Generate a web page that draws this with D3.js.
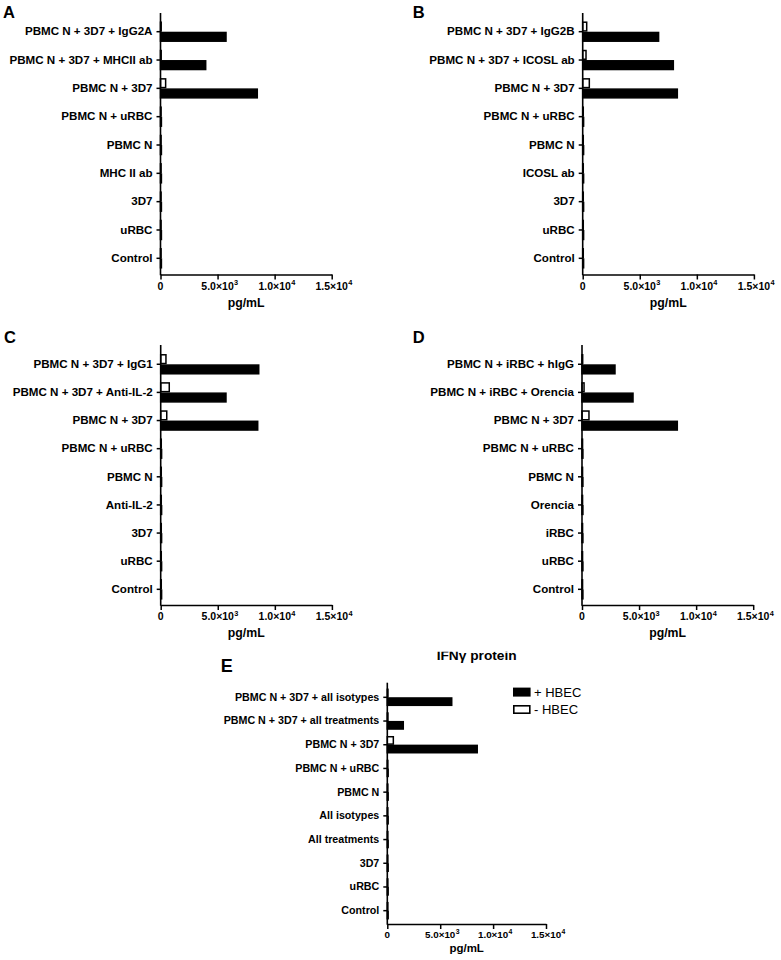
<!DOCTYPE html>
<html><head><meta charset="utf-8">
<script src="https://cdn.jsdelivr.net/npm/d3@7"></script>
<style>
body{margin:0;background:#fff}
svg{display:block}
text{font-family:"Liberation Sans",Arial,Helvetica,sans-serif}
</style>
</head><body>
<svg id="chart" width="781" height="960"></svg>
<script>
// ---------- data ----------
const tickValues = [0, 5000, 10000, 15000];
const tickBase = ["0", "5.0\u00d710", "1.0\u00d710", "1.5\u00d710"];
const tickExp = ["", "3", "4", "4"];
const xDomain = [0, 15000];
const axisTitle = "pg/mL";
const seriesKeys = ["minus", "plus"];
const legendLabels = ["+ HBEC", "- HBEC"];
const panelTitleE = "IFN\u03b3 protein";

const catA = ["PBMC N + 3D7 + IgG2A", "PBMC N + 3D7 + MHCII ab", "PBMC N + 3D7", "PBMC N + uRBC", "PBMC N", "MHC II ab", "3D7", "uRBC", "Control"];
const plusA = [5740, 3960, 8480, 80, 80, 80, 80, 80, 80];
const minusA = [60, 60, 450, 50, 50, 50, 50, 50, 50];

const catB = ["PBMC N + 3D7 + IgG2B", "PBMC N + 3D7 + ICOSL ab", "PBMC N + 3D7", "PBMC N + uRBC", "PBMC N", "ICOSL ab", "3D7", "uRBC", "Control"];
const plusB = [6650, 7940, 8290, 80, 80, 80, 80, 80, 80];
const minusB = [350, 290, 580, 50, 50, 50, 50, 50, 50];

const catC = ["PBMC N + 3D7 + IgG1", "PBMC N + 3D7 + Anti-IL-2", "PBMC N + 3D7", "PBMC N + uRBC", "PBMC N", "Anti-IL-2", "3D7", "uRBC", "Control"];
const plusC = [8590, 5720, 8500, 80, 80, 80, 80, 80, 80];
const minusC = [460, 750, 530, 50, 50, 50, 50, 50, 50];

const catD = ["PBMC N + iRBC + hIgG", "PBMC N + iRBC + Orencia", "PBMC N + 3D7", "PBMC N + uRBC", "PBMC N", "Orencia", "iRBC", "uRBC", "Control"];
const plusD = [2890, 4470, 8350, 80, 80, 80, 80, 80, 80];
const minusD = [60, 180, 610, 50, 50, 50, 50, 50, 50];

const catE = ["PBMC N + 3D7 + all isotypes", "PBMC N + 3D7 + all treatments", "PBMC N + 3D7", "PBMC N + uRBC", "PBMC N", "All isotypes", "All treatments", "3D7", "uRBC", "Control"];
const plusE = [6090, 1510, 8500, 80, 80, 80, 80, 80, 80, 80];
const minusE = [60, 60, 570, 50, 50, 50, 50, 50, 50, 50];

// ---------- layout ----------
const panels = [
  {letter:"A", cats:catA, plus:plusA, minus:minusA, x0:160.5, x1:331.7, yTop:13, yBase:274.5, band:[14.7,275.3], group:19, font:11.6, tickFont:10.5, titleFont:12.3, tickDy:15, titleDy:32.2, lx:3, ly:18.3, lsize:16.5},
  {letter:"B", cats:catB, plus:plusB, minus:minusB, x0:582.7, x1:753.9, yTop:13, yBase:274.5, band:[14.7,275.3], group:19, font:11.6, tickFont:10.5, titleFont:12.3, tickDy:15, titleDy:32.2, lx:412.7, ly:17.5, lsize:16.5},
  {letter:"C", cats:catC, plus:plusC, minus:minusC, x0:160.7, x1:331.9, yTop:345, yBase:605, band:[347.4,606.2], group:19, font:11.6, tickFont:10.5, titleFont:12.3, tickDy:15, titleDy:31.7, lx:4, ly:342.7, lsize:16.5},
  {letter:"D", cats:catD, plus:plusD, minus:minusD, x0:582, x1:753.2, yTop:345, yBase:605, band:[347.4,606.2], group:19, font:11.6, tickFont:10.5, titleFont:12.3, tickDy:15, titleDy:31.7, lx:412.7, ly:342.7, lsize:16.5},
  {letter:"E", cats:catE, plus:plusE, minus:minusE, x0:387.3, x1:546, yTop:682.7, yBase:924, band:[683.1,924.9], group:16, font:10.7, tickFont:9.8, titleFont:11.5, tickDy:13.7, titleDy:27.7, lx:220.7, ly:671.7, lsize:18, legend:true}
];

const svg = d3.select("#chart");
svg.append("defs").append("clipPath").attr("id","titleClip")
  .append("rect").attr("x",380).attr("y",651.8).attr("width",200).attr("height",20);

panels.forEach(p => {
  const g = svg.append("g");
  const x = d3.scaleLinear().domain(xDomain).range([p.x0, p.x1]);
  const y = d3.scaleBand().domain(p.cats).range(p.band).paddingInner(0).paddingOuter(0.1);
  const sub = d3.scaleBand().domain(seriesKeys).range([-p.group/2, p.group/2]).paddingInner(0.15);

  // bars
  const rows = p.cats.map((c,i) => ({c, minus:p.minus[i], plus:p.plus[i]}));
  rows.forEach(r => {
    const cy = y(r.c) + y.bandwidth()/2;
    seriesKeys.forEach(k => {
      g.append("rect")
        .attr("x", x(0))
        .attr("y", cy + sub(k))
        .attr("width", x(r[k]) - x(0))
        .attr("height", sub.bandwidth())
        .attr("fill", k === "plus" ? "#000" : "#fff")
        .attr("stroke", "#000")
        .attr("stroke-width", 1.5);
    });
  });

  // y axis
  const ya = g.append("g").attr("transform", `translate(${p.x0},0)`)
    .call(d3.axisLeft(y).tickSize(4).tickSizeOuter(0).tickPadding(4));
  ya.select(".domain").remove();
  ya.selectAll(".tick line").attr("stroke","#000").attr("stroke-width",1.5);
  ya.selectAll(".tick text").attr("font-size", p.font).attr("font-weight","bold")
    .attr("fill","#000").attr("font-family",'"Liberation Sans",Arial,sans-serif');
  g.append("line").attr("x1",p.x0).attr("x2",p.x0).attr("y1",p.yTop).attr("y2",p.yBase+0.75)
    .attr("stroke","#000").attr("stroke-width",1.6);

  // x axis
  const xa = g.append("g").attr("transform", `translate(0,${p.yBase})`)
    .call(d3.axisBottom(x).tickValues(tickValues).tickSize(5).tickSizeOuter(0).tickFormat(""));
  xa.select(".domain").attr("stroke","#000").attr("stroke-width",1.5);
  xa.selectAll(".tick line").attr("stroke","#000").attr("stroke-width",1.5);
  tickValues.forEach((v,i) => {
    const t = g.append("text").attr("x", x(v)).attr("y", p.yBase + p.tickDy)
      .attr("text-anchor","middle").attr("font-size", p.tickFont).attr("font-weight","bold")
      .text(tickBase[i]);
    if (tickExp[i]) {
      const w = t.node().getComputedTextLength();
      g.append("text").attr("x", x(v) + w/2 + 0.3).attr("y", p.yBase + p.tickDy - p.tickFont*0.4)
        .attr("font-size", p.tickFont*0.7).attr("font-weight","bold").text(tickExp[i]);
    }
  });
  g.append("text").attr("x", (p.x0+p.x1)/2).attr("y", p.yBase + p.titleDy)
    .attr("text-anchor","middle").attr("font-size", p.titleFont).attr("font-weight","bold")
    .text(axisTitle);

  // panel letter
  g.append("text").attr("x", p.lx).attr("y", p.ly).attr("font-size", p.lsize)
    .attr("font-weight","bold").text(p.letter);

  if (p.legend) {
    svg.append("text").attr("x", 476.7).attr("y", 660).attr("text-anchor","middle")
      .attr("font-size", 12.5).attr("font-weight","bold")
      .attr("textLength", 80).attr("lengthAdjust","spacingAndGlyphs")
      .attr("clip-path","url(#titleClip)").text(panelTitleE);
    const lg = svg.append("g");
    legendLabels.forEach((lab,i) => {
      const yy = 688.4 + i*17.4;
      lg.append("rect").attr("x", 513.8).attr("y", yy).attr("width", 16).attr("height", 7.4)
        .attr("fill", i === 0 ? "#000" : "#fff").attr("stroke","#000").attr("stroke-width",1.6);
      lg.append("text").attr("x", 534).attr("y", yy + 8.2).attr("font-size", 13).text(lab);
    });
  }
});
</script>
</body></html>
